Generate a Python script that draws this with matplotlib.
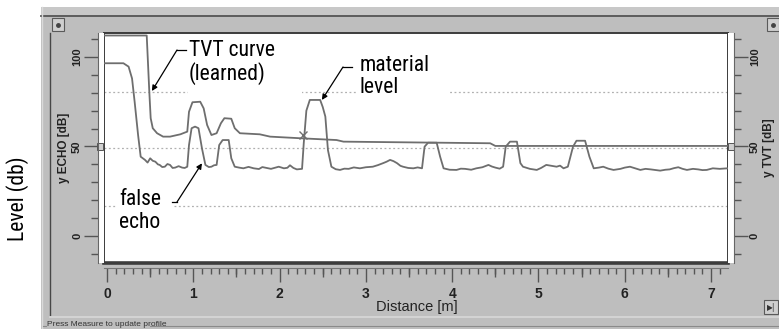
import matplotlib
matplotlib.use("Agg")
import matplotlib.pyplot as plt
from matplotlib import font_manager
from matplotlib.patches import Rectangle
from matplotlib.ticker import FixedLocator, MultipleLocator

W, H = 779, 329  # output size in pixels

# echo profile (distance in m, level in dB)
echo_dist = [-0.03, 0.19, 0.25, 0.29, 0.32, 0.36, 0.39,
             0.44, 0.47, 0.50, 0.53, 0.56, 0.59, 0.61, 0.64, 0.67, 0.70, 0.73, 0.76, 0.79, 0.83, 0.87, 0.90, 0.93,
             0.95, 0.98, 1.02, 1.06, 1.10, 1.14, 1.18, 1.21, 1.24, 1.27, 1.30, 1.34, 1.41, 1.44, 1.48, 1.53,
             1.58, 1.64, 1.70, 1.76, 1.80, 1.86, 1.90, 1.95, 1.99, 2.05, 2.09, 2.12, 2.16, 2.20, 2.26,
             2.28, 2.31, 2.35, 2.47, 2.50, 2.53, 2.56,
             2.60, 2.65, 2.70, 2.75, 2.80, 2.86, 2.93, 3.00, 3.08, 3.14, 3.20, 3.24, 3.28, 3.32, 3.36, 3.40,
             3.43, 3.49, 3.55, 3.60, 3.65,
             3.68, 3.72, 3.82, 3.86,
             3.90, 3.97, 4.05, 4.10, 4.15, 4.22, 4.28, 4.35, 4.42, 4.46, 4.50, 4.55, 4.59,
             4.62, 4.67, 4.75, 4.79,
             4.82, 4.90, 4.98, 5.03, 5.09, 5.15, 5.21, 5.25, 5.29, 5.34,
             5.40, 5.44, 5.54, 5.59,
             5.64, 5.70, 5.75, 5.81, 5.87, 5.95, 6.00, 6.06, 6.12, 6.18, 6.24, 6.30, 6.36, 6.41,
             6.47, 6.52, 6.57, 6.62, 6.67, 6.72, 6.79, 6.85, 6.90, 6.95, 7.02, 7.10, 7.19]
echo_db = [96.5, 96.5, 94.6, 88.0, 75.0, 56.4, 44.3,
           42.5, 41.0, 43.4, 42.0, 41.5, 40.0, 39.7, 38.5, 38.7, 40.2, 39.7, 38.0, 38.2, 39.0, 38.2, 38.0, 38.7,
           50.8, 60.2, 61.1, 60.2, 49.0, 39.7, 38.5, 38.7, 39.5, 39.7, 50.8, 53.6, 53.6, 43.4, 38.7, 38.2,
           37.8, 38.6, 37.8, 37.4, 38.5, 37.9, 37.5, 38.2, 38.7, 37.8, 38.1, 39.5, 38.0, 37.2, 37.5,
           52.0, 70.0, 76.0, 76.0, 72.0, 66.7, 48.0,
           38.7, 37.3, 36.9, 37.6, 37.5, 38.3, 37.8, 38.4, 38.7, 39.6, 40.7, 41.5, 42.5, 41.8, 40.7, 39.2,
           38.7, 38.0, 37.8, 38.3, 37.8,
           49.9, 52.1, 52.1, 44.3,
           37.8, 37.0, 36.9, 37.6, 37.5, 37.0, 37.8, 38.4, 39.7, 38.8, 38.2, 37.6, 38.7,
           49.9, 52.7, 52.7, 40.7,
           38.7, 37.5, 36.9, 38.0, 39.7, 39.2, 38.7, 39.3, 37.8, 38.7,
           49.9, 53.2, 53.2, 44.3,
           37.8, 38.2, 38.7, 37.6, 36.9, 37.5, 38.2, 38.7, 37.8, 36.9, 37.5, 37.2, 36.8, 36.5,
           37.0, 37.2, 37.9, 38.4, 37.5, 36.9, 37.5, 37.2, 36.8, 36.9, 37.8, 37.5, 37.8]

# learned TVT curve
tvt_dist = [-0.03, 0.46, 0.49, 0.506, 0.53, 0.58, 0.65, 0.73, 0.85, 0.93,
            0.95, 0.99, 1.08, 1.12, 1.16, 1.21, 1.27, 1.32, 1.36, 1.44,
            1.48, 1.54, 1.77, 1.89, 2.24, 2.66, 2.74, 4.44, 4.50, 7.19]
tvt_db = [112.0, 112.0, 80.6, 65.8, 60.2, 57.4, 55.5, 55.5, 56.8, 58.3,
          69.4, 74.7, 75.0, 71.3, 62.0, 56.4, 57.4, 63.0, 65.8, 65.5,
          60.2, 57.4, 56.8, 55.5, 54.6, 53.6, 52.7, 51.8, 50.3, 50.3]

cross_dist, cross_db = 2.27, 56.5  # echo / TVT crossing mark
grid_db = [80.4, 49.0, 16.8]
dist_ticks = [0, 1, 2, 3, 4, 5, 6, 7]
db_ticks = [0, 50, 100]
xlim = (-0.035, 7.196)
ylim = (-15.1, 113.4)

GRAY = "#bebebe"
LINE = "#6e6e6e"
SANS = ["Liberation Sans", "DejaVu Sans"]

# condensed face for the callouts, if one is installed
installed = {f.name for f in font_manager.fontManager.ttflist}
NARROW = "Liberation Sans"
for cand in ["Roboto Condensed", "Liberation Sans Narrow", "Open Sans Condensed"]:
    if cand in installed:
        NARROW = cand
        break


def rect(x0, y0, x1, y1):
    # pixel box (origin top-left) -> figure fraction
    return [x0 / W, 1 - y1 / H, (x1 - x0) / W, (y1 - y0) / H]


fig = plt.figure(figsize=(W / 100, H / 100), dpi=100)

# window chrome, drawn in pixel coordinates
bg = fig.add_axes([0, 0, 1, 1])
bg.set_xlim(0, W)
bg.set_ylim(H, 0)
bg.axis("off")
bg.add_patch(Rectangle((41, 7), W - 41, H - 7, facecolor=GRAY, edgecolor="none"))
bg.add_patch(Rectangle((41, 7), W - 41, 8, facecolor="#c8c8c8", edgecolor="none"))
bg.plot([41, W], [15.5, 15.5], color="#555555", lw=1.3)
bg.plot([42.5, 42.5], [7, H], color="#dadada", lw=1)
bg.plot([50.5, 50.5], [33, 315], color="#474747", lw=1)
bg.plot([50, W], [316.5, 316.5], color="#d8d8d8", lw=1.2)
bg.plot([43, 46], [325.5, 325.5], color="#8a8a8a", lw=0.8)
bg.plot([150, W], [325.5, 325.5], color="#8a8a8a", lw=0.8)
bg.text(47, 324.5, "Press Measure to update profile", fontsize=6,
        family=SANS, color="#333333", va="center")
for bx in (52, 767):
    bg.add_patch(Rectangle((bx, 18), 12, 13, facecolor="#cfcfcf",
                           edgecolor="#5a5a5a", lw=0.8))
    bg.plot(bx + 6, 24.5, "o", ms=2.5, color="#444444")
bg.add_patch(Rectangle((764, 300), 14, 14, facecolor="#cfcfcf",
                       edgecolor="#5a5a5a", lw=0.8))
bg.text(771, 307.5, "\u25b6|", fontsize=5.5, family="DejaVu Sans",
        ha="center", va="center", color="#333333")

# main plot area
ax = fig.add_axes(rect(104, 33, 728, 263))
ax.set_xlim(*xlim)
ax.set_ylim(*ylim)
ax.set_facecolor("white")
ax.set_xticks([])
ax.set_yticks([])
for side in ["left", "right", "top"]:
    ax.spines[side].set_color("#3c3c3c")
    ax.spines[side].set_linewidth(1.4)
ax.spines["bottom"].set_color("#3c3c3c")
ax.spines["bottom"].set_linewidth(2.6)

for g in grid_db:
    ax.axhline(g, color="#b0b0b0", lw=0.9, ls=(0, (1.5, 2)), zorder=1)

# white patches behind the callout text
for x0, y0, x1, y1 in [(188, 36, 302, 96), (357, 45, 450, 100), (116, 185, 173, 238)]:
    ax.add_patch(Rectangle((x0, y0), x1 - x0, y1 - y0, transform=bg.transData,
                           facecolor="white", edgecolor="none", zorder=2))

ax.plot(tvt_dist, tvt_db, color=LINE, lw=1.3, zorder=3)
ax.plot(echo_dist, echo_db, color=LINE, lw=1.3, zorder=3)
ax.plot(cross_dist, cross_db, "x", color=LINE, ms=6, mew=1, zorder=3)

# left and right dB rulers
left = fig.add_axes(rect(98, 33, 104, 263))
right = fig.add_axes(rect(728, 33, 734, 263))
for r, side in [(left, "left"), (right, "right")]:
    r.set_ylim(*ylim)
    r.set_xticks([])
    r.set_facecolor("white")
    for s in ["top", "bottom", "left", "right"]:
        r.spines[s].set_visible(s == side)
    r.spines[side].set_color("#666666")
    r.yaxis.set_ticks_position(side)
    r.yaxis.set_major_locator(FixedLocator(db_ticks))
    r.yaxis.set_minor_locator(MultipleLocator(10))
    r.tick_params(axis="y", which="major", length=10, width=1, color="#555555",
                  pad=1.5, labelsize=8, labelrotation=90)
    r.tick_params(axis="y", which="minor", length=5, width=1, color="#555555")
    for lab in r.get_yticklabels():
        lab.set_fontweight("bold")
        lab.set_family(SANS)
        lab.set_va("center")
        lab.set_color("#222222")
    # little slider handle at 50 dB
    r.add_patch(Rectangle((97 if side == "left" else 728, 143), 6, 7,
                          transform=bg.transData, facecolor="#d0d0d0",
                          edgecolor="#555555", lw=0.7, clip_on=False))

# distance ruler below the plot
bottom = fig.add_axes(rect(104, 267, 728, 268))
half = fig.add_axes(rect(104, 267, 728, 268))
for r in (bottom, half):
    r.set_xlim(*xlim)
    r.set_yticks([])
    r.patch.set_visible(False)
    for s in ["top", "left", "right", "bottom"]:
        r.spines[s].set_visible(s == "bottom" and r is bottom)
bottom.spines["bottom"].set_color("#777777")
bottom.xaxis.set_major_locator(FixedLocator(dist_ticks))
bottom.xaxis.set_minor_locator(MultipleLocator(0.1))
bottom.tick_params(axis="x", which="major", length=10, width=1, color="#555555",
                   pad=3.5, labelsize=10)
bottom.tick_params(axis="x", which="minor", length=4.3, width=1, color="#555555")
for lab in bottom.get_xticklabels():
    lab.set_fontweight("bold")
    lab.set_family(SANS)
    lab.set_color("#222222")
half.xaxis.set_major_locator(FixedLocator([d + 0.5 for d in dist_ticks]))
half.tick_params(axis="x", length=6.5, width=1, color="#555555", labelbottom=False)

fig.text(417, 307, "Distance [m]", transform=bg.transData, fontsize=10.5,
         family=SANS, ha="center", va="center", color="#222222")
fig.text(64.5, 148, "y ECHO [dB]", transform=bg.transData, fontsize=8.5,
         fontweight="bold", family=SANS, rotation=90, ha="center", va="center",
         color="#222222")
fig.text(769, 148, "y TVT [dB]", transform=bg.transData, fontsize=8.5,
         fontweight="bold", family=SANS, rotation=90, ha="center", va="center",
         color="#222222")
level = fig.text(18, 199, "Level (db)", transform=bg.transData, fontsize=15,
                 family=NARROW, rotation=90, ha="center", va="center", color="black")

# callouts
callouts = [
    ("TVT curve\n(learned)", (189, 62.5), (177, 50), (186, 50), (0.52, 81.0)),
    ("material\nlevel", (360, 76.5), (343, 67), (352, 67), (2.49, 76.0)),
    ("false\necho", (119, 211), (177, 202), (172, 202), (1.10, 40.6)),
]
big = []
for label, (tx, ty), (ax0, ay0), (ax1, ay1), head in callouts:
    big.append(fig.text(tx, ty, label, transform=bg.transData, fontsize=15,
                        family=NARROW, ha="left", va="center", linespacing=1.1,
                        color="black"))
    ax.plot([ax0, ax1], [ay0, ay1], color="black", lw=0.9,
            transform=bg.transData, clip_on=False, zorder=5)
    ax.annotate("", xy=head, xytext=(ax0, ay0), textcoords=bg.transData,
                annotation_clip=False, zorder=5,
                arrowprops=dict(arrowstyle="-|>", color="black", lw=0.9,
                                mutation_scale=8, shrinkA=0, shrinkB=0))

# size the callout face so "material" is about 70 px wide, close to the screenshot
fig.canvas.draw()
width = big[1].get_window_extent(fig.canvas.get_renderer()).width
k = 70.0 / width
for t in big + [level]:
    t.set_fontsize(t.get_fontsize() * k)

fig.savefig("out.png", dpi=100)
